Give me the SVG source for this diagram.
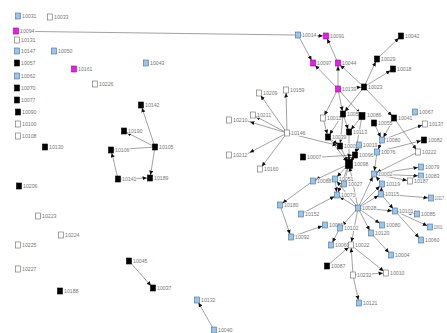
<svg xmlns="http://www.w3.org/2000/svg" width="447" height="333" viewBox="0 0 447 333">
<style>
rect{stroke-width:0.6}
.b rect{fill:#9dc3e6;stroke:#41719c}
.k rect{fill:#000;stroke:#000}
.m rect{fill:#e61ee6;stroke:#a000a0}
.w rect{fill:#fff;stroke:#666}
text{font-family:"Liberation Sans",Arial,sans-serif;font-size:5.2px;fill:#777;stroke:#fff;stroke-width:1.6;paint-order:stroke}
#edges line{stroke:#555;stroke-width:0.55;marker-end:url(#a)}
#edges line.n{marker-end:none}
</style>
<defs>
<marker id="a" markerWidth="6" markerHeight="5" refX="7.5" refY="2" orient="auto" markerUnits="userSpaceOnUse"><path d="M0,0 L4.5,2 L0,4 z" fill="#111"/></marker>
</defs>
<rect width="447" height="333" fill="#fff"/>
<g id="edges">
<line class="n" x1="35" y1="31.5" x2="296" y2="35"/>
<line x1="298" y1="35" x2="326" y2="36"/>
<line x1="298" y1="35" x2="313" y2="63"/>
<line x1="338" y1="89" x2="313" y2="63"/>
<line x1="338" y1="63" x2="326" y2="36"/>
<line x1="338" y1="89" x2="338" y2="63"/>
<line x1="364" y1="87" x2="338" y2="63"/>
<line x1="338" y1="89" x2="364" y2="87"/>
<line x1="364" y1="87" x2="377" y2="59"/>
<line x1="377" y1="59" x2="401" y2="36"/>
<line x1="364" y1="87" x2="393" y2="69"/>
<line x1="338" y1="89" x2="323" y2="118"/>
<line x1="338" y1="89" x2="343" y2="114"/>
<line x1="338" y1="89" x2="362" y2="116"/>
<line x1="364" y1="87" x2="343" y2="114"/>
<line x1="364" y1="87" x2="394" y2="118"/>
<line x1="394" y1="118" x2="418" y2="152"/>
<line x1="382" y1="140" x2="425" y2="124"/>
<line x1="377" y1="152" x2="424" y2="140"/>
<line x1="374" y1="123" x2="382" y2="140"/>
<line x1="394" y1="118" x2="382" y2="140"/>
<line x1="382" y1="140" x2="377" y2="152"/>
<line x1="377" y1="152" x2="374" y2="174"/>
<line x1="418" y1="152" x2="374" y2="174"/>
<line x1="374" y1="174" x2="421" y2="167"/>
<line x1="374" y1="174" x2="421" y2="176"/>
<line x1="374" y1="174" x2="410" y2="181"/>
<line x1="382" y1="184" x2="374" y2="174"/>
<line x1="381" y1="194" x2="382" y2="184"/>
<line x1="381" y1="194" x2="431" y2="198"/>
<line x1="381" y1="194" x2="395" y2="211"/>
<line x1="358" y1="208" x2="374" y2="174"/>
<line x1="358" y1="208" x2="382" y2="184"/>
<line x1="358" y1="208" x2="381" y2="194"/>
<line x1="358" y1="208" x2="395" y2="211"/>
<line x1="358" y1="208" x2="382" y2="225"/>
<line x1="358" y1="208" x2="371" y2="233"/>
<line x1="358" y1="208" x2="340" y2="228"/>
<line x1="358" y1="208" x2="351" y2="245"/>
<line x1="358" y1="208" x2="337" y2="195"/>
<line x1="358" y1="208" x2="349" y2="164"/>
<line x1="358" y1="208" x2="335" y2="179"/>
<line x1="395" y1="211" x2="417" y2="214"/>
<line x1="395" y1="211" x2="430" y2="227"/>
<line x1="395" y1="211" x2="421" y2="240"/>
<line x1="371" y1="233" x2="391" y2="255"/>
<line x1="327" y1="266" x2="351" y2="245"/>
<line x1="353" y1="275" x2="351" y2="245"/>
<line x1="351" y1="245" x2="386" y2="273"/>
<line x1="353" y1="275" x2="386" y2="273"/>
<line x1="353" y1="275" x2="359" y2="303"/>
<line x1="340" y1="228" x2="331" y2="245"/>
<line x1="291" y1="237" x2="325" y2="225"/>
<line x1="280" y1="205" x2="291" y2="237"/>
<line x1="313" y1="181" x2="280" y2="205"/>
<line x1="349" y1="164" x2="313" y2="181"/>
<line x1="313" y1="181" x2="335" y2="179"/>
<line x1="335" y1="179" x2="337" y2="195"/>
<line x1="301" y1="214" x2="337" y2="195"/>
<line x1="349" y1="164" x2="337" y2="195"/>
<line x1="349" y1="164" x2="335" y2="179"/>
<line x1="349" y1="164" x2="344" y2="184"/>
<line x1="323" y1="118" x2="328" y2="137"/>
<line x1="343" y1="114" x2="328" y2="137"/>
<line x1="343" y1="114" x2="340" y2="146"/>
<line x1="343" y1="114" x2="349" y2="132"/>
<line x1="362" y1="116" x2="349" y2="132"/>
<line x1="362" y1="116" x2="355" y2="155"/>
<line x1="328" y1="137" x2="340" y2="146"/>
<line x1="328" y1="137" x2="349" y2="164"/>
<line x1="340" y1="146" x2="349" y2="164"/>
<line x1="349" y1="132" x2="349" y2="164"/>
<line x1="359" y1="145" x2="355" y2="155"/>
<line x1="355" y1="155" x2="349" y2="164"/>
<line x1="322" y1="157" x2="355" y2="155"/>
<line x1="287" y1="133" x2="340" y2="146"/>
<line x1="287" y1="133" x2="259" y2="93"/>
<line x1="287" y1="133" x2="286" y2="90"/>
<line x1="287" y1="133" x2="253" y2="115"/>
<line x1="287" y1="133" x2="247" y2="121"/>
<line x1="287" y1="133" x2="247" y2="154"/>
<line x1="287" y1="133" x2="260" y2="169"/>
<line x1="155" y1="147" x2="141" y2="105"/>
<line x1="155" y1="147" x2="124" y2="131"/>
<line class="n" x1="155" y1="147" x2="111" y2="150"/>
<line x1="155" y1="147" x2="150" y2="178"/>
<line x1="118" y1="179" x2="111" y2="150"/>
<line x1="118" y1="179" x2="150" y2="178"/>
<line x1="129" y1="261" x2="153" y2="288"/>
<line x1="214" y1="330" x2="197" y2="300"/>
</g>
<g id="n10031" class="b"><rect x="15.5" y="13" width="5" height="6"/><text x="22" y="18">10031</text></g>
<g id="n10033" class="w"><rect x="47.5" y="14" width="5" height="6"/><text x="54" y="19">10033</text></g>
<g id="n10094" class="m"><rect x="13.5" y="28" width="5" height="6"/><text x="20" y="33">10094</text></g>
<g id="n10131" class="w"><rect x="14.5" y="37" width="5" height="6"/><text x="21" y="42">10131</text></g>
<g id="n10147" class="b"><rect x="14.5" y="48" width="5" height="6"/><text x="21" y="53">10147</text></g>
<g id="n10050" class="b"><rect x="51.5" y="48" width="5" height="6"/><text x="58" y="53">10050</text></g>
<g id="n10057" class="k"><rect x="14.5" y="60" width="5" height="6"/><text x="21" y="65">10057</text></g>
<g id="n10161" class="m"><rect x="71.5" y="66" width="5" height="6"/><text x="78" y="71">10161</text></g>
<g id="n10062" class="b"><rect x="14.5" y="73" width="5" height="6"/><text x="21" y="78">10062</text></g>
<g id="n10043" class="b"><rect x="143.5" y="60" width="5" height="6"/><text x="150" y="65">10043</text></g>
<g id="n10226" class="w"><rect x="92.5" y="81" width="5" height="6"/><text x="99" y="86">10226</text></g>
<g id="n10070" class="k"><rect x="14.5" y="85" width="5" height="6"/><text x="21" y="90">10070</text></g>
<g id="n10077" class="k"><rect x="14.5" y="97" width="5" height="6"/><text x="21" y="102">10077</text></g>
<g id="n10090" class="k"><rect x="15.5" y="109" width="5" height="6"/><text x="22" y="114">10090</text></g>
<g id="n10100" class="w"><rect x="15.5" y="121" width="5" height="6"/><text x="22" y="126">10100</text></g>
<g id="n10108" class="w"><rect x="15.5" y="133" width="5" height="6"/><text x="22" y="138">10108</text></g>
<g id="n10130" class="k"><rect x="42.5" y="144" width="5" height="6"/><text x="49" y="149">10130</text></g>
<g id="n10206" class="k"><rect x="16.5" y="183" width="5" height="6"/><text x="23" y="188">10206</text></g>
<g id="n10223" class="w"><rect x="35.5" y="213" width="5" height="6"/><text x="42" y="218">10223</text></g>
<g id="n10224" class="w"><rect x="58.5" y="232" width="5" height="6"/><text x="65" y="237">10224</text></g>
<g id="n10225" class="w"><rect x="15.5" y="242" width="5" height="6"/><text x="22" y="247">10225</text></g>
<g id="n10227" class="w"><rect x="15.5" y="266" width="5" height="6"/><text x="22" y="271">10227</text></g>
<g id="n10188" class="k"><rect x="57.5" y="288" width="5" height="6"/><text x="64" y="293">10188</text></g>
<g id="n10045" class="k"><rect x="126.5" y="258" width="5" height="6"/><text x="133" y="263">10045</text></g>
<g id="n10037" class="k"><rect x="150.5" y="285" width="5" height="6"/><text x="157" y="290">10037</text></g>
<g id="n10132" class="b"><rect x="194.5" y="297" width="5" height="6"/><text x="201" y="302">10132</text></g>
<g id="n10040" class="b"><rect x="211.5" y="327" width="5" height="6"/><text x="218" y="332">10040</text></g>
<g id="n10142" class="k"><rect x="138.5" y="102" width="5" height="6"/><text x="145" y="107">10142</text></g>
<g id="n10190" class="k"><rect x="121.5" y="128" width="5" height="6"/><text x="128" y="133">10190</text></g>
<g id="n10106" class="k"><rect x="108.5" y="147" width="5" height="6"/><text x="115" y="152">10106</text></g>
<g id="n10105" class="k"><rect x="152.5" y="144" width="5" height="6"/><text x="159" y="149">10105</text></g>
<g id="n10141" class="k"><rect x="115.5" y="176" width="5" height="6"/><text x="122" y="181">10141</text></g>
<g id="n10189" class="k"><rect x="147.5" y="175" width="5" height="6"/><text x="154" y="180">10189</text></g>
<g id="n10014" class="b"><rect x="295.5" y="32" width="5" height="6"/><text x="302" y="37">10014</text></g>
<g id="n10091" class="m"><rect x="323.5" y="33" width="5" height="6"/><text x="330" y="38">10091</text></g>
<g id="n10097" class="m"><rect x="310.5" y="60" width="5" height="6"/><text x="317" y="65">10097</text></g>
<g id="n10044" class="m"><rect x="335.5" y="60" width="5" height="6"/><text x="342" y="65">10044</text></g>
<g id="n10139" class="m"><rect x="335.5" y="86" width="5" height="6"/><text x="342" y="91">10139</text></g>
<g id="n10023" class="k"><rect x="361.5" y="84" width="5" height="6"/><text x="368" y="89">10023</text></g>
<g id="n10029" class="k"><rect x="374.5" y="56" width="5" height="6"/><text x="381" y="61">10029</text></g>
<g id="n10042" class="k"><rect x="398.5" y="33" width="5" height="6"/><text x="405" y="38">10042</text></g>
<g id="n10018" class="k"><rect x="390.5" y="66" width="5" height="6"/><text x="397" y="71">10018</text></g>
<g id="n10209" class="w"><rect x="256.5" y="90" width="5" height="6"/><text x="263" y="95">10209</text></g>
<g id="n10159" class="w"><rect x="283.5" y="87" width="5" height="6"/><text x="290" y="92">10159</text></g>
<g id="n10210" class="w"><rect x="226.5" y="117" width="5" height="6"/><text x="233" y="122">10210</text></g>
<g id="n10211" class="w"><rect x="250.5" y="112" width="5" height="6"/><text x="257" y="117">10211</text></g>
<g id="n10146" class="w"><rect x="284.5" y="130" width="5" height="6"/><text x="291" y="135">10146</text></g>
<g id="n10212" class="w"><rect x="226.5" y="152" width="5" height="6"/><text x="233" y="157">10212</text></g>
<g id="n10160" class="w"><rect x="257.5" y="166" width="5" height="6"/><text x="264" y="171">10160</text></g>
<g id="n10007" class="k"><rect x="300.5" y="154" width="5" height="6"/><text x="307" y="159">10007</text></g>
<g id="n10011" class="w"><rect x="320.5" y="115" width="5" height="6"/><text x="327" y="120">10011</text></g>
<g id="n10052" class="k"><rect x="340.5" y="111" width="5" height="6"/><text x="347" y="116">10052</text></g>
<g id="n10086" class="k"><rect x="359" y="112.5" width="6" height="7"/><text x="367" y="117">10086</text></g>
<g id="n10055" class="k"><rect x="371.5" y="120" width="5" height="6"/><text x="378" y="125">10055</text></g>
<g id="n10041" class="k"><rect x="391.5" y="115" width="5" height="6"/><text x="398" y="120">10041</text></g>
<g id="n10067" class="b"><rect x="412.5" y="109" width="5" height="6"/><text x="419" y="114">10067</text></g>
<g id="n10137" class="w"><rect x="422.5" y="121" width="5" height="6"/><text x="429" y="126">10137</text></g>
<g id="n10113" class="k"><rect x="346.5" y="129" width="5" height="6"/><text x="353" y="134">10113</text></g>
<g id="n10039" class="k"><rect x="325.5" y="134" width="5" height="6"/><text x="332" y="139">10039</text></g>
<g id="n10005" class="k"><rect x="337.5" y="143" width="5" height="6"/><text x="344" y="148">10005</text></g>
<g id="n10019" class="b"><rect x="356.5" y="142" width="5" height="6"/><text x="363" y="147">10019</text></g>
<g id="n10080a" class="b"><rect x="379.5" y="137" width="5" height="6"/><text x="386" y="142">10080</text></g>
<g id="n10082" class="k"><rect x="421.5" y="137" width="5" height="6"/><text x="428" y="142">10082</text></g>
<g id="n10096" class="k"><rect x="352.5" y="152" width="5" height="6"/><text x="359" y="157">10096</text></g>
<g id="n10098" class="k"><rect x="345.5" y="159.5" width="7" height="9"/><text x="354" y="166">10098</text></g>
<g id="n10076" class="b"><rect x="374.5" y="149" width="5" height="6"/><text x="381" y="154">10076</text></g>
<g id="n10222" class="w"><rect x="415.5" y="149" width="5" height="6"/><text x="422" y="154">10222</text></g>
<g id="n10079" class="b"><rect x="418.5" y="164" width="5" height="6"/><text x="425" y="169">10079</text></g>
<g id="n10083" class="b"><rect x="418.5" y="173" width="5" height="6"/><text x="425" y="178">10083</text></g>
<g id="n10002" class="b"><rect x="371.5" y="171" width="5" height="6"/><text x="378" y="176">10002</text></g>
<g id="n10119" class="b"><rect x="379.5" y="181" width="5" height="6"/><text x="386" y="186">10119</text></g>
<g id="n10187" class="w"><rect x="407.5" y="178" width="5" height="6"/><text x="414" y="183">10187</text></g>
<g id="n10115" class="b"><rect x="378.5" y="191" width="5" height="6"/><text x="385" y="196">10115</text></g>
<g id="n10117" class="b"><rect x="428.5" y="195" width="5" height="6"/><text x="434.5" y="200" textLength="9.5" lengthAdjust="spacingAndGlyphs">10117</text></g>
<g id="n10088" class="b"><rect x="310.5" y="178" width="5" height="6"/><text x="317" y="183">10088</text></g>
<g id="n10051" class="b"><rect x="332.5" y="176" width="5" height="6"/><text x="339" y="181">10051</text></g>
<g id="n10027" class="b"><rect x="341.5" y="181" width="5" height="6"/><text x="348" y="186">10027</text></g>
<g id="n10071" class="b"><rect x="334.5" y="192" width="5" height="6"/><text x="341" y="197">10071</text></g>
<g id="n10028" class="b"><rect x="355.5" y="205" width="5" height="6"/><text x="362" y="210">10028</text></g>
<g id="n10101" class="b"><rect x="392.5" y="208" width="5" height="6"/><text x="399" y="213">10101</text></g>
<g id="n10085" class="b"><rect x="414.5" y="211" width="5" height="6"/><text x="421" y="216">10085</text></g>
<g id="n10180" class="b"><rect x="277.5" y="202" width="5" height="6"/><text x="284" y="207">10180</text></g>
<g id="n10152" class="b"><rect x="298.5" y="211" width="5" height="6"/><text x="305" y="216">10152</text></g>
<g id="n10059" class="b"><rect x="322.5" y="222" width="5" height="6"/><text x="329" y="227">10059</text></g>
<g id="n10102" class="b"><rect x="337.5" y="225" width="5" height="6"/><text x="344" y="230">10102</text></g>
<g id="n10080b" class="b"><rect x="379.5" y="222" width="5" height="6"/><text x="386" y="227">10080</text></g>
<g id="n10001" class="b"><rect x="427.5" y="224" width="5" height="6"/><text x="433.5" y="229" textLength="9" lengthAdjust="spacingAndGlyphs">10001</text></g>
<g id="n10092" class="b"><rect x="288.5" y="234" width="5" height="6"/><text x="295" y="239">10092</text></g>
<g id="n10069" class="b"><rect x="328.5" y="242" width="5" height="6"/><text x="335" y="247">10069</text></g>
<g id="n10022" class="w"><rect x="348.5" y="242" width="5" height="6"/><text x="355" y="247">10022</text></g>
<g id="n10120" class="b"><rect x="368.5" y="230" width="5" height="6"/><text x="375" y="235">10120</text></g>
<g id="n10060" class="b"><rect x="418.5" y="237" width="5" height="6"/><text x="425" y="242">10060</text></g>
<g id="n10004" class="b"><rect x="388.5" y="252" width="5" height="6"/><text x="395" y="257">10004</text></g>
<g id="n10087" class="k"><rect x="324.5" y="263" width="5" height="6"/><text x="331" y="268">10087</text></g>
<g id="n10232" class="w"><rect x="350.5" y="272" width="5" height="6"/><text x="357" y="277">10232</text></g>
<g id="n10010" class="w"><rect x="383.5" y="270" width="5" height="6"/><text x="390" y="275">10010</text></g>
<g id="n10121" class="b"><rect x="356.5" y="300" width="5" height="6"/><text x="363" y="305">10121</text></g>
</svg>
